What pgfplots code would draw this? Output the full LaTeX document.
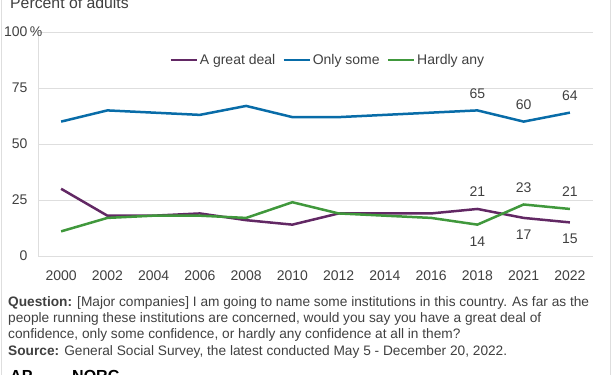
\documentclass[border=0pt]{standalone}
\usepackage{fontspec}
\setmainfont{Liberation Sans}
\usepackage{pgfplots}
\pgfplotsset{compat=1.18}
\definecolor{cpurple}{RGB}{98,40,100}
\definecolor{cblue}{RGB}{8,108,168}
\definecolor{cgreen}{RGB}{64,152,60}
\definecolor{ctext}{RGB}{64,64,64}
\definecolor{cgrid}{RGB}{222,222,222}
\begin{document}
\begin{tikzpicture}[x=1bp,y=1bp]
\useasboundingbox (0,0) rectangle (612,374);
\draw[cgrid,line width=1bp] (1.5,-5) -- (1.5,380);
\draw[cgrid,line width=1bp] (610.5,-5) -- (610.5,380);
\begin{axis}[
  at={(38bp,118bp)}, anchor=south west,
  scale only axis, width=555bp, height=224bp,
  xmin=-0.5, xmax=11.5, ymin=0, ymax=100,
  xtick={0,...,11},
  xticklabels={2000,2002,2004,2006,2008,2010,2012,2014,2016,2018,2021,2022},
  ytick={0,25,50,75,100},
  yticklabels={0,25,50,75,100\rlap{\,\%}},
  axis x line*=none, axis y line*=left,
  axis line style={cgrid,line width=0.8bp},
  x axis line style={draw=none},
  y axis line style={-},
  major tick length=0pt,
  ymajorgrids, grid style={cgrid,line width=0.8bp},
  /pgf/number format/assume math mode=true,
  tick label style={font=\fontsize{14bp}{16bp}\selectfont, text=ctext},
  yticklabel style={xshift=-7bp},
  xticklabel style={yshift=-11bp},
  legend style={draw=none, fill=none, at={(0.522,0.875)}, anchor=center,
     font=\fontsize{14bp}{16bp}\selectfont, text=ctext,
     legend columns=3, /tikz/every even column/.append style={column sep=5bp},
     legend cell align=left},
  legend image code/.code={\draw[#1] (0bp,0bp) -- (26bp,0bp);},
  every axis plot/.append style={line width=2.5bp},
  clip=false,
]
\addplot[cpurple] coordinates {(0,30)(1,18)(2,18)(3,19)(4,16)(5,14)(6,19)(7,19)(8,19)(9,21)(10,17)(11,15)};
\addlegendentry{A great deal}
\addplot[cblue] coordinates {(0,60)(1,65)(2,64)(3,63)(4,67)(5,62)(6,62)(7,63)(8,64)(9,65)(10,60)(11,64)};
\addlegendentry{Only some}
\addplot[cgreen] coordinates {(0,11)(1,17)(2,18)(3,18)(4,17)(5,24)(6,19)(7,18)(8,17)(9,14)(10,23)(11,21)};
\addlegendentry{Hardly any}
% labels above
\addplot[draw=none, forget plot, nodes near coords, point meta=y,
  every node near coord/.append style={anchor=base, yshift=12bp, inner sep=0pt, text=ctext, font=\fontsize{14bp}{16bp}\selectfont}]
  coordinates {(9,65)(10,60)(11,64)(9,21)(10,23)(11,21)};
% labels below
\addplot[draw=none, forget plot, nodes near coords, point meta=y,
  every node near coord/.append style={anchor=north, yshift=-10.5bp, inner sep=0pt, text=ctext, font=\fontsize{14bp}{16bp}\selectfont}]
  coordinates {(9,14)(10,17)(11,15)};
\end{axis}
\node[anchor=base west, inner sep=0pt, text=ctext, font=\fontsize{15.8bp}{18bp}\selectfont] at (10,366) {Percent of adults};
\begin{scope}[every node/.style={anchor=base west, inner sep=0pt, text=ctext, font=\fontsize{13.7bp}{16bp}\selectfont}]
\node at (8,67.5) {\textbf{Question:} [Major companies] I am going to name some institutions in this country. As far as the};
\node at (8,51.5) {people running these institutions are concerned, would you say you have a great deal of};
\node at (8,35.5) {confidence, only some confidence, or hardly any confidence at all in them?};
\node at (8,19) {\textbf{Source:} General Social Survey, the latest conducted May 5 - December 20, 2022.};
\end{scope}
\node[anchor=north west, inner sep=0pt, text=black, font=\bfseries\fontsize{16bp}{18bp}\selectfont] at (10,3.5) {AP};
\node[anchor=north west, inner sep=0pt, text=black, font=\bfseries\fontsize{16bp}{18bp}\selectfont] at (72,3.5) {NORC};
\end{tikzpicture}
\end{document}
